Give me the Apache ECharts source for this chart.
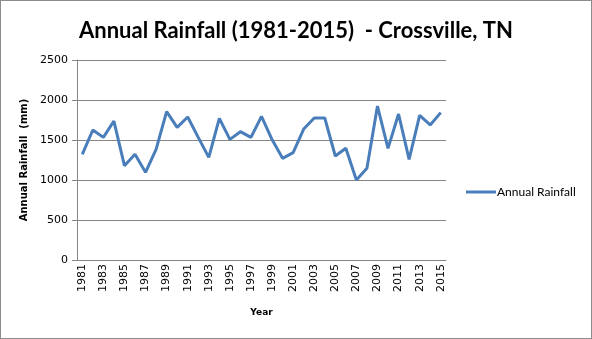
<!DOCTYPE html>
<html>
<head>
<meta charset="utf-8">
<script src="https://cdn.jsdelivr.net/npm/echarts@6/dist/echarts.min.js"></script>
<style>
  html, body { margin: 0; padding: 0; background: #fff; }
  #chart { width: 590px; height: 337px; border: 1px solid #8c8c8c; }
</style>
</head>
<body>
<div id="chart"></div>
<script>
// Annual rainfall at Crossville, TN (mm)
const years = [
  '1981','1982','1983','1984','1985','1986','1987','1988','1989','1990',
  '1991','1992','1993','1994','1995','1996','1997','1998','1999','2000',
  '2001','2002','2003','2004','2005','2006','2007','2008','2009','2010',
  '2011','2012','2013','2014','2015'
];
const rainfall = [
  1321, 1625, 1533, 1737, 1179, 1321, 1096, 1383, 1854, 1658,
  1788, 1533, 1283, 1771, 1508, 1604, 1533, 1795, 1505, 1271,
  1342, 1637, 1775, 1775, 1300, 1396, 1000, 1146, 1925, 1396,
  1825, 1258, 1808, 1688, 1842
];
const seriesName = 'Annual Rainfall';
const titleText = 'Annual Rainfall (1981-2015)  - Crossville, TN';
const yAxisTitle = 'Annual Rainfall  (mm)';
const xAxisTitle = 'Year';

const chart = echarts.init(document.getElementById('chart'));
chart.setOption({
  animation: false,
  title: {
    text: titleText,
    left: 'center',
    top: 14,
    textStyle: { fontFamily: 'Lato', fontWeight: 'bold', fontSize: 22, color: '#000' }
  },
  legend: {
    data: [seriesName],
    orient: 'vertical',
    left: 460,
    top: 180,
    itemWidth: 30,
    itemHeight: 3,
    itemGap: 0,
    icon: 'rect',
    textStyle: { fontFamily: 'Lato', fontSize: 12, color: '#000', padding: [0, 0, 0, -4] }
  },
  grid: { left: 76, right: 145, top: 59, bottom: 78 },
  xAxis: {
    type: 'category',
    data: years,
    boundaryGap: true,
    name: xAxisTitle,
    nameLocation: 'middle',
    nameGap: 48,
    nameTextStyle: { fontFamily: 'DejaVu Sans', fontWeight: 'bold', fontSize: 9, color: '#000' },
    axisLine: { lineStyle: { color: '#868686', width: 1 } },
    axisTick: { show: false },
    axisLabel: {
      interval: 1,
      rotate: 90,
      margin: 4,
      fontFamily: 'DejaVu Sans',
      fontSize: 11,
      color: '#000'
    }
  },
  yAxis: {
    type: 'value',
    min: 0,
    max: 2500,
    interval: 500,
    name: yAxisTitle,
    nameLocation: 'middle',
    nameGap: 41,
    nameTextStyle: { fontFamily: 'DejaVu Sans', fontWeight: 'bold', fontSize: 10, color: '#000' },
    axisLine: { show: true, lineStyle: { color: '#868686', width: 1 } },
    axisTick: { show: true, length: 5, lineStyle: { color: '#868686' } },
    axisLabel: {
      margin: 9,
      fontFamily: 'DejaVu Sans',
      fontSize: 11,
      color: '#000',
      formatter: (v) => String(v)
    },
    splitLine: { lineStyle: { color: '#868686', width: 1 } }
  },
  series: [{
    name: seriesName,
    type: 'line',
    data: rainfall,
    showSymbol: false,
    symbol: 'none',
    lineStyle: { color: '#4a7ebb', width: 3 },
    itemStyle: { color: '#4a7ebb' }
  }]
});
</script>
</body>
</html>
